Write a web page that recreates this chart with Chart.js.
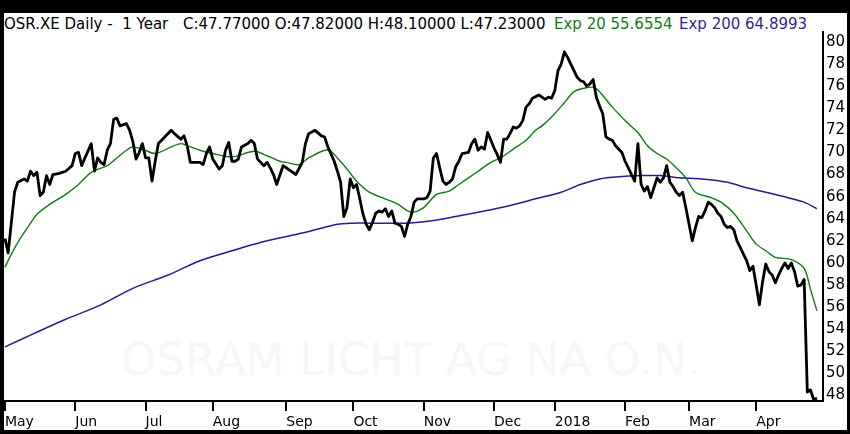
<!DOCTYPE html>
<html><head><meta charset="utf-8">
<script src="https://cdn.jsdelivr.net/npm/chart.js@4.4.1/dist/chart.umd.min.js"></script>
<style>
html,body{margin:0;padding:0;background:#000;width:850px;height:434px;overflow:hidden;}
#panel{position:absolute;left:4px;top:13px;width:843px;height:417px;background:#fff;}
#wm{position:absolute;left:0;top:338px;width:822px;text-align:center;font-family:"DejaVu Sans";font-size:44px;line-height:44px;color:#f7f7f7;white-space:pre;transform:scaleX(1.03);transform-origin:411px 0;}
.seg{position:absolute;top:17px;font-family:"DejaVu Sans";font-size:15px;line-height:15px;white-space:pre;color:#000;}
canvas{position:absolute;left:0;top:0;}
</style></head>
<body>
<div id="panel"></div>
<div id="wm">OSRAM LICHT AG NA O.N.</div>
<div class="seg" style="left:4px">OSR.XE Daily -  1 Year</div>
<div class="seg" style="left:183px">C:47.77000 O:47.82000 H:48.10000 L:47.23000</div>
<div class="seg" style="left:554px;color:#17781a">Exp 20 55.6554</div>
<div class="seg" style="left:679px;color:#3a1f8e">Exp 200 64.8993</div>
<canvas id="c" width="850" height="434"></canvas>
<script>
const priceDays = [0,1,3,4,6,7,8,9,10,11,12,13,14,15,17,19,21,22,23,24,25,27,28,29,30,31,32,33,34,35,36,38,39,40,41,42,43,44,45,46,47,48,49,52,53,55,56,57,58,59,61,62,63,64,65,67,68,69,70,71,72,73,74,76,77,78,79,80,81,82,83,84,85,87,91,93,94,95,97,99,100,101,103,104,105,106,107,108,109,110,111,112,113,114,115,116,117,118,119,120,121,122,123,124,125,126,127,128,129,131,132,133,134,135,136,137,138,139,140,141,142,143,145,146,147,148,149,150,151,152,153,154,155,156,157,158,159,160,161,162,163,164,165,167,169,170,171,172,173,174,175,176,177,178,179,180,181,182,183,184,185,186,187,188,189,190,191,193,194,195,196,197,198,199,200,201,202,203,204,205,206,207,208,209,210,211,212,213,214,215,216,217,218,219,220,221,222,223,224,225,226,227,228,229,230,231,232,233,234,235,236,237,238,239,240,241,242,243,244,245,246,247,248,249,250,251,252,253,254];
const priceVals = [62.2,60.9,66.4,67.3,67.6,67.4,68.3,67.9,68.2,66.1,66.4,67.9,67.1,68.0,68.1,68.3,68.8,69.9,70.0,68.8,69.5,70.8,68.3,69.5,69.1,68.9,70.2,70.8,73.0,73.1,72.4,72.6,72.0,71.0,69.4,70.0,70.8,69.5,69.5,67.4,69.2,70.8,71.1,72.0,71.7,71.2,71.5,70.6,69.1,69.1,69.1,68.9,69.9,70.5,69.4,68.5,68.8,70.2,70.9,69.2,69.2,69.4,70.5,70.8,71.1,70.8,69.4,69.1,68.8,69.1,68.6,68.0,67.1,68.8,68.0,69.1,70.8,71.7,72.0,71.5,71.4,70.5,69.2,68.3,67.3,64.2,65.0,67.6,66.8,67.1,65.8,64.4,63.5,63.0,63.7,64.5,64.7,64.6,64.9,64.2,64.7,63.6,63.5,63.3,62.4,63.5,64.2,65.5,65.8,65.8,65.9,66.5,69.5,69.9,68.6,67.4,67.1,67.3,67.6,68.7,69.2,69.9,70.0,70.8,71.2,70.2,70.5,70.3,71.8,71.1,70.4,69.8,69.1,71.2,71.2,71.7,72.3,72.2,72.4,72.9,74.1,74.4,74.9,75.2,74.8,75.0,74.9,75.6,77.4,78.0,79.1,78.6,78.0,77.4,76.8,76.5,76.4,76.0,76.2,76.6,75.0,74.2,73.5,71.4,71.2,71.1,70.6,70.0,69.2,68.6,68.0,67.4,70.8,67.1,66.5,66.9,65.9,66.8,67.7,67.3,67.7,68.8,67.3,66.9,66.4,66.1,66.4,65.0,63.5,62.0,63.2,64.2,64.1,64.7,65.5,65.3,65.0,64.5,64.2,63.5,63.2,63.3,63.0,62.0,61.4,60.8,60.2,59.3,59.7,58.0,56.2,58.3,59.9,59.2,58.9,58.2,58.9,59.5,60.0,59.5,60.0,59.2,57.9,58.0,58.5,48.3,48.5,47.6,47.77];
const ema20Days = [0,2,5,8,10,14,19,23,27,32,35,38,40,43,47,52,55,57,61,65,71,78,82,86,88,92,95,100,102,104,107,110,114,118,123,126,128,131,135,139,142,148,152,155,159,163,166,168,171,175,178,181,184,186,190,195,198,201,204,207,210,213,216,221,224,228,232,235,238,241,246,250,252,254];
const ema20Vals = [59.6,60.8,62.3,63.6,64.4,65.3,66.2,67.1,68.2,68.8,69.5,70.2,70.5,70.3,69.9,70.5,70.8,70.6,70.2,69.9,69.6,70.1,69.7,69.2,69.1,68.9,69.5,70.2,70.1,69.5,68.5,67.4,66.4,65.9,65.3,64.7,64.6,65.0,66.2,66.5,67.1,68.3,69.1,69.5,70.3,71.1,72.0,72.4,73.2,74.5,75.5,75.8,75.9,75.5,74.1,72.6,71.8,70.6,69.9,69.4,68.6,67.7,66.4,65.9,65.5,64.5,62.9,61.7,61.1,60.5,60.3,59.5,57.6,55.66];
const ema200Days = [0,9,19,30,40,51,61,71,82,93,104,109,114,125,133,141,150,158,166,174,180,186,192,199,205,211,218,226,232,238,245,250,254];
const ema200Vals = [52.4,53.6,54.9,56.2,57.7,58.9,60.2,61.1,62.0,62.7,63.5,63.6,63.6,63.6,63.8,64.2,64.7,65.2,65.8,66.4,67.1,67.6,67.8,67.9,67.9,67.7,67.6,67.3,66.8,66.4,65.9,65.5,64.9];
const monthTickDays = [0,22,44,65,88,109,131,153,172,194,214,235];
const monthLabels = ['May','Jun','Jul','Aug','Sep','Oct','Nov','Dec','2018','Feb','Mar','Apr'];
const priceTicks = [48,50,52,54,56,58,60,62,64,66,68,70,72,74,76,78,80];

function pts(xs, ys){ return xs.map((x,i)=>({x:x, y:ys[i]})); }

new Chart(document.getElementById('c'), {
  type:'line',
  data:{datasets:[
    {data:pts(priceDays,priceVals), borderColor:'#000', borderWidth:2.8, pointRadius:0, tension:0, borderJoinStyle:'round', order:0},
    {data:pts(ema20Days,ema20Vals), borderColor:'#137a13', borderWidth:1.4, pointRadius:0, tension:0.3, order:1},
    {data:pts(ema200Days,ema200Vals), borderColor:'#2c1a8c', borderWidth:1.5, pointRadius:0, tension:0.3, order:2}
  ]},
  options:{
    responsive:false, animation:false,
    layout:{padding:{left:4, top:32, right:3, bottom:3}},
    plugins:{legend:{display:false}, tooltip:{enabled:false}},
    scales:{
      x:{type:'linear', min:-0.3, max:255.9,
        afterBuildTicks:s=>{ s.ticks = monthTickDays.map(v=>({value:v})); },
        afterFit:s=>{ s.height = 30; },
        ticks:{autoSkip:false, maxRotation:0, minRotation:0, align:'start', padding:3, color:'#000',
          font:{family:'DejaVu Sans', size:14},
          callback:(v,i)=>monthLabels[i]},
        grid:{drawOnChartArea:false, drawTicks:true, tickLength:10, color:'#000', lineWidth:2},
        border:{display:true, color:'#000', width:2}
      },
      y:{type:'linear', position:'right', min:47.5, max:80.9,
        afterBuildTicks:s=>{ s.ticks = priceTicks.map(v=>({value:v})); },
        afterFit:s=>{ s.width = 24; },
        ticks:{padding:3, color:'#000', font:{family:'DejaVu Sans', size:15}},
        grid:{drawOnChartArea:false, drawTicks:false},
        border:{display:true, color:'#000', width:2}
      }
    }
  }
});
</script>
</body></html>
